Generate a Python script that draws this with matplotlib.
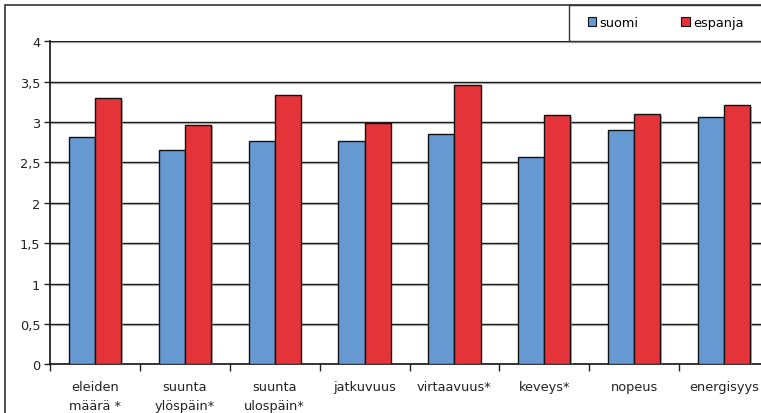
import numpy as np
import matplotlib.pyplot as plt
import matplotlib.patheffects as pe
from matplotlib.patches import Rectangle

categories = ['eleiden\nmäärä *', 'suunta\nylöspäin*', 'suunta\nulospäin*', 'jatkuvuus',
              'virtaavuus*', 'keveys*', 'nopeus', 'energisyys']
suomi = [2.82, 2.65, 2.76, 2.76, 2.85, 2.57, 2.90, 3.06]
espanja = [3.30, 2.97, 3.33, 2.99, 3.46, 3.09, 3.10, 3.21]

blue = '#6699D2'
red = '#E4343A'
fs = 9.3

plt.rcParams['font.family'] = 'DejaVu Sans'
fig = plt.figure(figsize=(7.61, 4.14), dpi=100)
ax = fig.add_axes([50 / 761, 48.7 / 414, 719 / 761, 322.9 / 414])

x = np.arange(len(categories))
w = 0.29
shadow = [pe.SimplePatchShadow(offset=(1.2, -1.2), shadow_rgbFace='#999999', alpha=0.7), pe.Normal()]
b1 = ax.bar(x - w / 2, suomi, w, color=blue, edgecolor='#111111', linewidth=1, label='suomi', zorder=3)
b2 = ax.bar(x + w / 2, espanja, w, color=red, edgecolor='#111111', linewidth=1, label='espanja', zorder=3)
for b in list(b1) + list(b2):
    b.set_path_effects(shadow)

ax.set_xlim(-0.5, len(categories) - 0.5)
ax.set_ylim(0, 4)
ax.set_yticks(np.arange(0, 4.01, 0.5))
ax.set_yticklabels(['0', '0,5', '1', '1,5', '2', '2,5', '3', '3,5', '4'])

# gridlines with a faint gray edge underneath
for yv in np.arange(0.5, 4.01, 0.5):
    ax.axhline(yv, color='#1a1a1a', linewidth=1, zorder=1,
               path_effects=[pe.SimpleLineShadow(offset=(0, -0.7), shadow_color='#999999', alpha=0.6), pe.Normal()])

ax.set_xticks(x)
ax.set_xticklabels(categories, linespacing=1.6, va='top')
ax.set_xticks(np.arange(-0.5, len(categories), 1), minor=True)
ax.tick_params(axis='x', which='major', length=0, pad=11.5, labelsize=fs, colors='#222222')
ax.tick_params(axis='x', which='minor', length=5, width=1, color='#222222')
ax.tick_params(axis='y', length=4, width=1, pad=3, labelsize=fs, colors='#222222')

for s in ['top', 'right']:
    ax.spines[s].set_visible(False)
for s in ['left', 'bottom']:
    ax.spines[s].set_color('#111111')
    ax.spines[s].set_linewidth(1.2)
ax.set_axisbelow(True)

# outer chart frame and legend box
fig.add_artist(Rectangle((4.5 / 761, -0.2), 1.0, (414 - 5.5) / 414 + 0.2, transform=fig.transFigure,
                         fill=False, edgecolor='#333333', linewidth=1.2))
fig.add_artist(Rectangle((568.7 / 761, (414 - 42.3) / 414), 0.5, (42.3 - 5.5) / 414, transform=fig.transFigure,
                         fill=False, edgecolor='#333333', linewidth=1.0))

leg = fig.legend(handles=[b1, b2], labels=['suomi', 'espanja'], loc='center left',
                 bbox_to_anchor=(588 / 761, (414 - 23.7) / 414), ncol=2, frameon=False,
                 fontsize=fs, handlelength=0.65, handleheight=0.65, handletextpad=0.25,
                 columnspacing=3.3, borderpad=0, borderaxespad=0)
for h in leg.legend_handles:
    h.set_linewidth(0.8)
    h.set_path_effects([])

fig.savefig('out.png', dpi=100)
